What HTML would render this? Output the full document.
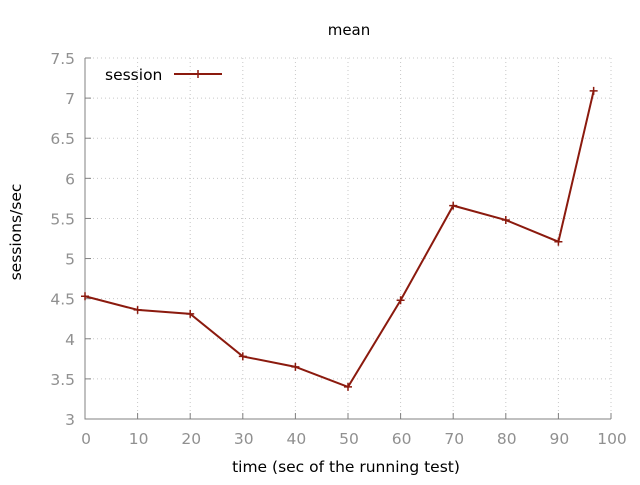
<!DOCTYPE html>
<html><head><meta charset="utf-8"><style>
body{margin:0;background:#fff}
svg text{font-family:"DejaVu Sans","Liberation Sans",sans-serif}
</style></head><body>
<svg width="640" height="480" viewBox="0 0 640 480">
<g id="grid"></g>
<g id="axes"></g>
<g id="series"></g>
<text x="349" y="35" font-size="15" text-anchor="middle" fill="#000">mean</text>
<text x="346" y="472" font-size="15.5" text-anchor="middle" fill="#000">time (sec of the running test)</text>
<text transform="translate(21,232) rotate(-90)" font-size="15.5" text-anchor="middle" fill="#000">sessions/sec</text>
<g>
<text x="105" y="80" font-size="15.5" fill="#000">session</text>
<line x1="174" y1="74" x2="222" y2="74" stroke="#8b1a0e" stroke-width="2"/>
<path d="M194,74h8M198,70v8" stroke="#8b1a0e" stroke-width="1.5"/>
</g>
</svg>
<script>
const xValues=[0,10,20,30,40,50,60,70,80,90,96.7];
const yValues=[4.53,4.36,4.31,3.78,3.65,3.40,4.48,5.66,5.48,5.21,7.09];
const xTicks=[0,10,20,30,40,50,60,70,80,90,100];
const yTicks=[3,3.5,4,4.5,5,5.5,6,6.5,7,7.5];
const yTickLabels=["3","3.5","4","4.5","5","5.5","6","6.5","7","7.5"];
const NS="http://www.w3.org/2000/svg";
const X0=85,X1=611,Y0=419,Y1=58;
const sx=v=>X0+(v-0)/100*(X1-X0);
const sy=v=>Y0-(v-3)/4.5*(Y0-Y1);
function mk(t,a,p){const e=document.createElementNS(NS,t);for(const k in a)e.setAttribute(k,a[k]);p.appendChild(e);return e;}
const grid=document.getElementById('grid'),axes=document.getElementById('axes'),ser=document.getElementById('series');
xTicks.forEach((t,i)=>{
 if(i>0){const g=mk('line',{x1:sx(t),y1:Y0,x2:sx(t),y2:Y1,stroke:'#c8c8c8','stroke-dasharray':'1,3'},grid);
 
 }
 const tk=mk('line',{x1:sx(t),y1:Y0,x2:sx(t),y2:Y0-6,stroke:'#808080'},axes);
 
 
 const l=mk('text',{x:sx(t)+1,y:Y0+25,'font-size':15.5,'text-anchor':'middle',fill:'#909090'},axes);l.textContent=String(t);
 
 
});
yTicks.forEach((t,i)=>{
 if(i>0){const g=mk('line',{x1:X0,y1:sy(t),x2:X1,y2:sy(t),stroke:'#c8c8c8','stroke-dasharray':'1,3'},grid);
 
 }
 const tk=mk('line',{x1:X0,y1:sy(t),x2:X0+6,y2:sy(t),stroke:'#808080'},axes);
 
 
 const l=mk('text',{x:X0-10,y:sy(t)+6,'font-size':15.5,'text-anchor':'end',fill:'#909090'},axes);l.textContent=yTickLabels[i];
 
 
});
const ax=mk('path',{d:`M${X0},${Y1}V${Y0}H${X1}`,stroke:'#808080',fill:'none'},axes);


const pts=xValues.map((x,i)=>sx(x)+','+sy(yValues[i])).join(' ');
const pl=mk('polyline',{points:pts,fill:'none',stroke:'#8b1a0e','stroke-width':2},ser);


xValues.forEach((x,i)=>{
 const m=mk('path',{d:`M${sx(x)-4},${sy(yValues[i])}h8M${sx(x)},${sy(yValues[i])-4}v8`,stroke:'#8b1a0e','stroke-width':1.5},ser);
 
 
});
</script>
</body></html>
